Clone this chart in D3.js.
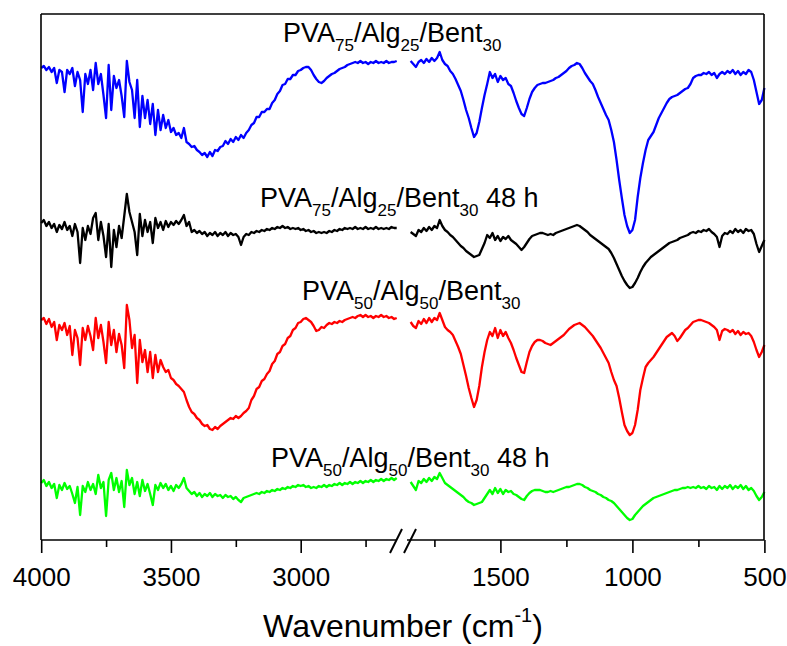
<!DOCTYPE html>
<html>
<head>
<meta charset="utf-8">
<script src="https://cdn.jsdelivr.net/npm/d3@7"></script>
<style>
body { margin: 0; background: #fff; }
svg { display: block; font-family: "Liberation Sans", Arial, sans-serif; }
</style>
</head>
<body>
<svg id="chart"></svg>
<script>
// wavenumber grids of the two axis segments (cm-1)
const waveLeft = d3.range(4000, 2625, -10);   // 4000 .. 2630
const waveRight = d3.range(1840, 495, -10);   // 1840 .. 500

const ticksLeft = [4000, 3500, 3000];
const minorLeft = [3750, 3250, 2750];
const ticksRight = [1500, 1000, 500];
const minorRight = [1750, 1250, 750];

// transmittance, arbitrary units (stacked curves)
const blueLeft = [
 473,475,471,474,469,473,458,471,469,449, 471,467,473,455,469,461,429,467,457,471,
 451,478,457,467,446,423,476,431,465,453, 461,445,424,480,459,451,423,461,414,445,
 423,441,417,437,406,431,411,426,413,421, 409,413,406,408,403,413,399,397,394,395,
 391,389,386,388,384,389,385,391,390,394, 395,400,397,402,399,404,401,406,403,408,
 411,416,418,424,424,429,429,432,432,438, 441,447,450,456,457,462,462,466,466,470,
 471,473,474,474,471,466,462,459,458,460, 463,465,467,468,470,472,473,474,476,477,
 478,479,478,480,478,479,477,479,478,480, 478,479,478,480,478,479,479,480];
const blueRight = [
 480,477,474,479,481,478,482,479,483,480, 483,489,481,477,475,470,467,462,456,450,
 441,431,423,413,404,408,419,433,446,457, 469,463,467,459,465,461,463,457,455,448,
 440,433,427,425,433,442,449,453,456,457, 458,458,459,460,461,463,464,466,468,470,
 473,475,476,478,477,473,468,464,460,457, 451,444,438,432,426,421,411,399,381,361,
 343,326,315,308,311,321,344,363,378,391, 401,405,409,416,423,428,433,438,442,444,
 445,446,448,450,452,453,457,463,465,466, 466,468,467,469,466,468,463,467,469,467,
 470,468,471,467,470,466,469,467,471,469, 461,449,437,441,453];

const blackLeft = [
 318,321,315,319,313,317,309,316,312,319, 311,315,305,317,309,278,313,301,315,307,
 323,328,301,319,305,284,317,274,311,294, 315,303,325,347,329,319,309,286,327,305,
 321,309,319,298,323,313,319,311,320,314, 319,316,320,317,321,326,315,319,309,311,
 308,310,307,309,305,308,306,309,305,308, 306,309,305,308,306,307,304,296,304,307,
 306,309,308,310,309,311,310,312,311,313, 312,314,313,315,313,314,312,313,312,313,
 311,312,310,311,309,310,308,309,308,309, 308,310,309,311,310,312,311,313,312,313,
 312,314,312,313,312,314,312,313,312,314, 312,313,312,313,312,314,313,313];
const blackRight = [
 309,307,305,311,309,313,310,314,311,315, 313,321,315,311,309,306,304,301,298,295,
 293,290,288,286,284,285,286,292,298,306, 303,308,301,305,300,304,302,305,301,299,
 297,294,291,294,298,302,305,306,307,308, 308,307,306,307,306,308,309,310,311,312,
 313,314,315,316,315,313,311,309,306,304, 302,300,298,296,294,292,288,283,277,271,
 265,260,256,253,254,258,263,269,274,278, 281,284,286,288,290,292,294,296,298,299,
 300,301,303,304,305,306,308,309,308,310, 309,311,310,312,309,307,304,294,305,308,
 307,310,308,312,309,311,308,312,310,311, 307,297,289,295,301];

const redLeft = [
 221,223,217,222,214,219,201,216,211,218, 206,215,186,211,203,176,213,201,215,205,
 191,223,203,216,199,178,219,196,211,189, 207,196,173,236,221,193,206,158,201,179,
 191,169,189,163,186,169,181,174,169,171, 163,161,157,155,152,149,141,134,129,127,
 123,121,117,115,116,112,111,114,112,115, 117,119,121,123,122,125,123,125,128,130,
 133,141,145,152,154,160,162,167,170,177, 180,187,189,195,197,203,205,211,213,218,
 219,222,223,221,219,215,210,211,214,213, 216,218,217,219,218,220,219,221,222,223,
 224,223,225,226,224,226,224,225,223,225, 224,226,224,225,223,224,222,223];
const redRight = [
 219,215,213,220,217,222,218,223,219,223, 221,228,221,214,211,209,206,200,194,187,
 176,165,153,143,134,141,155,174,189,201, 209,205,213,203,211,205,209,203,198,191,
 183,176,169,168,179,189,195,199,201,201, 200,198,197,196,198,200,202,204,206,209,
 212,214,216,217,218,216,214,211,208,205, 201,197,193,188,183,178,169,161,155,143,
 129,116,110,106,108,116,131,151,163,174, 178,181,184,188,192,196,200,204,206,208,
 205,200,203,207,211,213,216,219,220,221, 221,220,219,218,216,214,211,201,210,212,
 211,209,211,207,210,206,209,207,208,205, 199,191,184,189,196];

const greenLeft = [
 58,61,55,59,53,57,43,56,51,58, 52,55,47,38,54,26,55,49,59,51,
 57,47,66,53,59,25,61,68,51,63, 49,60,34,71,56,63,47,59,45,61,
 50,57,47,36,56,51,58,53,57,51, 55,50,56,53,57,63,53,50,47,49,
 45,48,44,47,45,48,44,47,45,46, 43,46,44,45,42,44,41,39,43,44,
 45,46,47,48,47,49,48,50,49,51, 50,52,51,53,52,54,53,55,54,56,
 55,56,54,55,53,54,53,55,54,56, 54,56,55,57,56,58,56,58,57,59,
 57,59,58,60,58,60,59,61,59,61, 60,62,60,62,61,63,61,63];
const greenRight = [
 59,55,51,60,58,62,59,63,60,64, 62,68,63,58,56,54,52,50,48,46,
 44,41,39,38,36,37,38,39,43,47, 51,47,53,48,52,47,51,49,50,47,
 46,44,42,41,45,48,50,51,51,51, 50,49,49,50,49,50,51,52,53,54,
 54,55,56,57,57,56,54,53,51,50, 49,47,46,44,43,41,40,38,35,32,
 29,26,23,21,22,26,29,32,35,37, 39,41,43,44,45,46,47,48,49,50,
 51,51,52,53,53,54,53,54,53,55, 53,54,52,55,53,54,51,55,52,55,
 53,56,52,55,53,56,52,55,51,53, 50,45,41,44,49];

const seriesColors = ["#0000ff", "#000000", "#ff0000", "#00ff00"];
const seriesLeft = [blueLeft, blackLeft, redLeft, greenLeft];
const seriesRight = [blueRight, blackRight, redRight, greenRight];
// label parts: [text, isSubscript]
const seriesLabels = [
    [["PVA", 0], ["75", 1], ["/Alg", 0], ["25", 1], ["/Bent", 0], ["30", 1]],
    [["PVA", 0], ["75", 1], ["/Alg", 0], ["25", 1], ["/Bent", 0], ["30", 1], [" 48 h", 0]],
    [["PVA", 0], ["50", 1], ["/Alg", 0], ["50", 1], ["/Bent", 0], ["30", 1]],
    [["PVA", 0], ["50", 1], ["/Alg", 0], ["50", 1], ["/Bent", 0], ["30", 1], [" 48 h", 0]]
];
const labelPos = [[283, 42], [260, 207], [302, 300], [271, 467]];

const width = 787, height = 646;
const plotTop = 14, plotBottom = 540, plotLeft = 41, plotRight = 764;

const svg = d3.select("#chart").attr("width", width).attr("height", height);
svg.append("rect").attr("width", width).attr("height", height).attr("fill", "#fff");

const xLeft = d3.scaleLinear().domain([4000, 2620]).range([41.2, 399.3]);
const xRight = d3.scaleLinear().domain([1850, 500]).range([408, 764.4]);
const y = d3.scaleLinear().domain([0, 527]).range([541, 14]);

// curves
function drawSegment(waves, values, xScale, color) {
    const line = d3.line()
        .x((d, i) => xScale(waves[i]))
        .y(d => y(d));
    svg.append("path")
        .attr("d", line(values))
        .attr("fill", "none")
        .attr("stroke", color)
        .attr("stroke-width", 2.3)
        .attr("stroke-linejoin", "round");
}

seriesColors.forEach((c, k) => {
    drawSegment(waveLeft, seriesLeft[k], xLeft, c);
    drawSegment(waveRight, seriesRight[k], xRight, c);
});

// frame
const frame = svg.append("g").attr("stroke", "#000").attr("stroke-width", 1.6).attr("fill", "none");
frame.append("line").attr("x1", plotLeft).attr("x2", plotRight).attr("y1", plotTop).attr("y2", plotTop);
frame.append("line").attr("x1", plotLeft).attr("x2", plotLeft).attr("y1", plotTop).attr("y2", plotBottom);
frame.append("line").attr("x1", plotRight).attr("x2", plotRight).attr("y1", plotTop).attr("y2", plotBottom);
frame.append("line").attr("x1", plotLeft).attr("x2", 396).attr("y1", plotBottom).attr("y2", plotBottom);
frame.append("line").attr("x1", 407).attr("x2", plotRight).attr("y1", plotBottom).attr("y2", plotBottom);

// axis break marks
frame.append("line").attr("x1", 390).attr("y1", 553).attr("x2", 402).attr("y2", 529).attr("stroke-width", 2);
frame.append("line").attr("x1", 404).attr("y1", 553).attr("x2", 416).attr("y2", 529).attr("stroke-width", 2);

// axes
function drawAxis(scale, major, minor) {
    const gMajor = svg.append("g").attr("transform", `translate(0,${plotBottom})`)
        .call(d3.axisBottom(scale).tickValues(major).tickSize(13).tickPadding(15).tickFormat(d3.format("d")));
    gMajor.select(".domain").remove();
    gMajor.attr("font-size", 26).attr("font-family", "Liberation Sans, Arial, sans-serif");
    gMajor.selectAll("line").attr("stroke-width", 1.6);
    gMajor.selectAll("text").attr("fill", "#000");

    const gMinor = svg.append("g").attr("transform", `translate(0,${plotBottom})`)
        .call(d3.axisBottom(scale).tickValues(minor).tickSize(7).tickFormat(""));
    gMinor.select(".domain").remove();
    gMinor.selectAll("line").attr("stroke-width", 1.6);
}
drawAxis(xLeft, ticksLeft, minorLeft);
drawAxis(xRight, ticksRight, minorRight);

// axis title
const title = svg.append("text")
    .attr("x", 403).attr("y", 637)
    .attr("text-anchor", "middle")
    .attr("font-size", 32)
    .attr("fill", "#000");
title.append("tspan").text("Wavenumber (cm");
title.append("tspan").attr("font-size", 20).attr("dy", -15).text("-1");
title.append("tspan").attr("dy", 15).text(")");

// series labels
seriesLabels.forEach((parts, k) => {
    const t = svg.append("text")
        .attr("x", labelPos[k][0]).attr("y", labelPos[k][1])
        .attr("font-size", 27)
        .attr("fill", "#000");
    let shifted = false;
    parts.forEach(([txt, sub]) => {
        const ts = t.append("tspan").text(txt);
        if (sub && !shifted) { ts.attr("dy", 9); shifted = true; }
        if (!sub && shifted) { ts.attr("dy", -9); shifted = false; }
        if (sub) ts.attr("font-size", 17);
    });
});
</script>
</body>
</html>
